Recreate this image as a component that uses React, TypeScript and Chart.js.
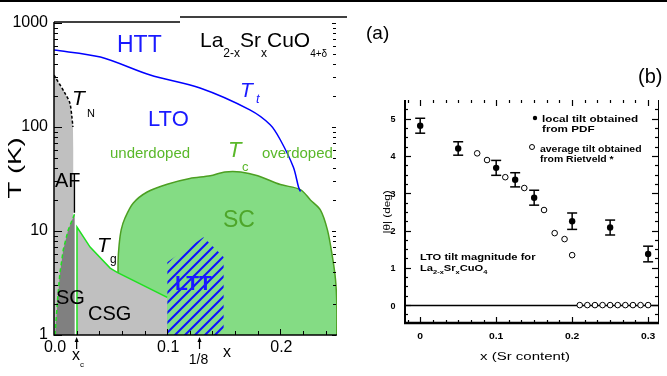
import React, { useEffect, useRef } from "react";
import { Chart, registerables } from "chart.js";

Chart.register(...registerables);

// ---------------- Panel (a): phase diagram ----------------
const aXTicks = [0, 0.1, 0.2];
const aXTickLabels = ["0.0", "0.1", "0.2"];
const aYTicks = [1, 10, 100, 1000];
const aYTickLabels = ["1", "10", "100", "1000"];

// HTT -> LTO structural transition T_t
const ttX = [0, 0.041, 0.085, 0.129, 0.173, 0.191, 0.2, 0.2115, 0.216, 0.2177];
const ttT = [550, 471, 316, 237, 146, 105, 75, 41, 26.5, 24];

// superconducting dome T_c
const scX = [0.0566, 0.0566, 0.0575, 0.0594, 0.0628, 0.0699, 0.0823, 0.1, 0.12, 0.138, 0.151, 0.165, 0.18, 0.2, 0.2177, 0.2265, 0.2354, 0.2416, 0.246, 0.2487, 0.2498, 0.2498];
const scT = [1, 5.0, 7.3, 10.3, 13.4, 18.5, 23.7, 28.2, 32, 34, 37, 37, 34, 28, 25, 19.9, 15.9, 10.2, 5.6, 3.4, 2, 1];

// cluster spin glass region with T_g boundary
const csgX = [0.0203, 0.0203, 0.0319, 0.0496, 0.0558, 0.0788, 0.1, 0.1];
const csgT = [1, 10.9, 7.0, 4.4, 4.0, 3.0, 2.3, 1];

// antiferromagnetic region with T_N boundary
const afX = [0, 0, 0.0096, 0.014, 0.0158, 0.0167, 0.0172, 0.0172];
const afT = [1, 316, 212, 170, 125, 100, 60, 1];

// spin glass region
const sgX = [0.0009, 0.0032, 0.0053, 0.0082, 0.0125, 0.0184, 0.0184];
const sgT = [1, 2.2, 4.0, 6.6, 10.2, 14.8, 1];

// short AF/SG separator
const sepX = [0.018, 0.018];
const sepT = [36, 15];

// LTT hatched region
const lttX = [0.1, 0.1, 0.132, 0.15, 0.15];
const lttT = [1, 5.0, 8.7, 5.6, 1];

// ---------------- Panel (b): LTO tilt ----------------
const bXTicks = [0, 0.1, 0.2, 0.3];
const bXTickLabels = ["0", "0.1", "0.2", "0.3"];
const bYTicks = [0, 1, 2, 3, 4, 5];
const bYTickLabels = ["0", "1", "2", "3", "4", "5"];

const localX = [0, 0.05, 0.1, 0.125, 0.15, 0.2, 0.25, 0.3];
const localTilt = [4.81, 4.2, 3.68, 3.36, 2.88, 2.25, 2.08, 1.37];
const localErr = [0.2, 0.18, 0.2, 0.19, 0.2, 0.22, 0.2, 0.21];

const avgX = [0.075, 0.088, 0.112, 0.137, 0.163, 0.177, 0.19, 0.2, 0.21, 0.22, 0.23, 0.24, 0.25, 0.26, 0.27, 0.28, 0.29, 0.3];
const avgTilt = [4.07, 3.89, 3.43, 3.14, 2.55, 1.93, 1.77, 1.34, 0, 0, 0, 0, 0, 0, 0, 0, 0, 0];

// ---------------- styles ----------------
const FONT = '"Liberation Sans", Arial, Helvetica, sans-serif';
const BLUE = "#1a1aff";
const GREEN_TXT = "#5ab82a";
const SC_TXT = "#4ea62a";
const SC_FILL = "#84dc84";
const SC_EDGE = "#4c9f22";
const BRIGHT_GREEN = "#20e020";
const GREY = "#c0c0c0";
const DARK_GREY = "#808080";

function pts(xs: number[], ys: number[]) {
  return xs.map((x, i) => ({ x, y: ys[i] }));
}

function seg(ctx: CanvasRenderingContext2D, x1: number, y1: number, x2: number, y2: number) {
  ctx.beginPath();
  ctx.moveTo(x1, y1);
  ctx.lineTo(x2, y2);
  ctx.stroke();
}

function txt(
  ctx: CanvasRenderingContext2D,
  s: string,
  x: number,
  y: number,
  font: string,
  color: string,
  align: CanvasTextAlign = "left"
) {
  ctx.font = font;
  ctx.fillStyle = color;
  ctx.textAlign = align;
  ctx.textBaseline = "alphabetic";
  ctx.fillText(s, x, y);
}

// horizontally stretched text; returns drawn width
function txtS(
  ctx: CanvasRenderingContext2D,
  s: string,
  x: number,
  y: number,
  font: string,
  color: string,
  sx: number,
  align: CanvasTextAlign = "left"
) {
  ctx.save();
  ctx.translate(x, y);
  ctx.scale(sx, 1);
  txt(ctx, s, 0, 0, font, color, align);
  const w = ctx.measureText(s).width * sx;
  ctx.restore();
  return w;
}

function arrowUp(ctx: CanvasRenderingContext2D, x: number, yTop: number, yBot: number) {
  ctx.lineWidth = 1.2;
  seg(ctx, x, yTop + 2, x, yBot);
  ctx.beginPath();
  ctx.moveTo(x, yTop);
  ctx.lineTo(x - 2, yTop + 5);
  ctx.lineTo(x + 2, yTop + 5);
  ctx.closePath();
  ctx.fill();
}

const panelAPlugin = {
  id: "panelA",
  afterDatasetsDraw(chart: any) {
    const { ctx, chartArea: a, scales } = chart;
    const X = (v: number) => scales.x.getPixelForValue(v);
    const Y = (v: number) => scales.y.getPixelForValue(v);
    ctx.save();
    ctx.strokeStyle = "#000";
    ctx.fillStyle = "#000";
    ctx.lineWidth = 1.5;
    // frame
    seg(ctx, a.left, a.top - 1, a.left, a.bottom + 0.75);
    seg(ctx, a.left, a.bottom, a.right, a.bottom);
    seg(ctx, a.left, a.top - 1, 180, a.top - 1);
    seg(ctx, 180, 17, 347, 17);
    // log ticks left & right
    ctx.lineWidth = 1;
    for (let dec = 1; dec <= 1000; dec *= 10) {
      for (let m = 1; m < 10; m++) {
        const v = dec * m;
        if (v > 1000) break;
        const py = Math.round(Y(v)) + 0.5;
        const major = m === 1;
        seg(ctx, a.left, py, a.left + (major ? 8 : 4), py);
        seg(ctx, a.right - 1, py, a.right - 1 - (major ? 4 : 3), py);
      }
    }
    // x ticks
    for (let k = 1; k * 0.02 < 0.25; k++) {
      const px = Math.round(X(k * 0.02)) + 0.5;
      seg(ctx, px, a.bottom, px, a.bottom - (k % 5 === 0 ? 6 : 4));
    }
    // tick labels
    aYTicks.forEach((v, i) => txt(ctx, aYTickLabels[i], a.left - 6, Y(v) + 3.5, `16px ${FONT}`, "#000", "right"));
    aXTicks.forEach((v, i) => txt(ctx, aXTickLabels[i], X(v) + 1, a.bottom + 17, `16px ${FONT}`, "#000", "center"));
    txt(ctx, "x", 223, a.bottom + 22, `16px ${FONT}`, "#000");
    // arrows for x_c and 1/8
    arrowUp(ctx, X(0.02), a.bottom + 2, a.bottom + 14);
    arrowUp(ctx, X(0.125) + 4, a.bottom + 2, a.bottom + 14);
    txt(ctx, "x", 72, a.bottom + 25, `16px ${FONT}`, "#000");
    txt(ctx, "c", 80, a.bottom + 32, `8px ${FONT}`, "#000");
    txt(ctx, "1/8", X(0.125) + 3, a.bottom + 29, `14px ${FONT}`, "#000", "center");
    // y axis title (stretched along its length)
    ctx.save();
    ctx.translate(21, 168);
    ctx.rotate(-Math.PI / 2);
    ctx.scale(1.45, 1);
    txt(ctx, "T (K)", 0, 0, `19px ${FONT}`, "#000", "center");
    ctx.restore();

    // region labels
    txt(ctx, "HTT", 117, 52, `23px ${FONT}`, BLUE);
    txt(ctx, "LTO", 148, 126, `22px ${FONT}`, BLUE);
    txt(ctx, "T", 240, 97, `italic 21px ${FONT}`, BLUE);
    txt(ctx, "t", 256, 103, `italic 13px ${FONT}`, BLUE);
    txt(ctx, "T", 72, 105, `italic 21px ${FONT}`, "#000");
    txt(ctx, "N", 87, 117, `11px ${FONT}`, "#000");
    txt(ctx, "underdoped", 110, 158, `15px ${FONT}`, GREEN_TXT);
    txt(ctx, "T", 228, 157, `italic 22px ${FONT}`, GREEN_TXT);
    txt(ctx, "c", 242, 171, `13px ${FONT}`, GREEN_TXT);
    txt(ctx, "overdoped", 262, 158, `15px ${FONT}`, GREEN_TXT);
    txt(ctx, "AF", 55, 187, `20px ${FONT}`, "#000");
    txt(ctx, "SC", 223, 227, `23px ${FONT}`, SC_TXT);
    txt(ctx, "T", 97, 252, `italic 21px ${FONT}`, "#000");
    txt(ctx, "g", 110, 263, `12px ${FONT}`, "#000");
    txt(ctx, "SG", 56, 304, `20px ${FONT}`, "#000");
    txt(ctx, "CSG", 88, 320, `20px ${FONT}`, "#000");
    txt(ctx, "LTT", 175, 290, `bold 21px ${FONT}`, BLUE);

    // formula La2-xSrxCuO4+δ
    let cx = 200;
    const big = `21px ${FONT}`;
    const sub = `12px ${FONT}`;
    const parts: [string, boolean][] = [["La", false], ["2-x", true], ["Sr", false], ["x", true], ["CuO", false], ["4+δ", true]];
    for (const [s, isSub] of parts) {
      const f = isSub ? (s === "4+δ" ? `10px ${FONT}` : sub) : big;
      txt(ctx, s, cx, isSub ? 57 : 47, f, "#000");
      ctx.font = f;
      cx += ctx.measureText(s).width;
    }
    ctx.restore();
  },
};

const panelBPlugin = {
  id: "panelB",
  beforeDatasetsDraw(chart: any) {
    const { ctx, chartArea: a, scales } = chart;
    const X = (v: number) => scales.x.getPixelForValue(v);
    const Y = (v: number) => scales.y.getPixelForValue(v);
    ctx.save();
    ctx.strokeStyle = "#000";
    ctx.lineWidth = 1.5;
    const y0 = Math.round(Y(0)) + 0.5;
    seg(ctx, a.left, y0, a.right, y0);
    // error bars
    ctx.lineWidth = 1.5;
    localX.forEach((x, i) => {
      const px = X(x);
      const yt = Y(localTilt[i] + localErr[i]);
      const yb = Y(localTilt[i] - localErr[i]);
      seg(ctx, px, yt, px, yb);
      seg(ctx, px - 5, yt, px + 5, yt);
      seg(ctx, px - 5, yb, px + 5, yb);
    });
    ctx.restore();
  },
  afterDatasetsDraw(chart: any) {
    const { ctx, chartArea: a, scales } = chart;
    const X = (v: number) => scales.x.getPixelForValue(v);
    const Y = (v: number) => scales.y.getPixelForValue(v);
    ctx.save();
    ctx.strokeStyle = "#000";
    ctx.fillStyle = "#000";
    // axes
    ctx.lineWidth = 2;
    seg(ctx, a.left, a.top, a.left, a.bottom + 1);
    ctx.lineWidth = 2.5;
    seg(ctx, a.left - 1, a.bottom, a.right + 1, a.bottom);
    ctx.lineWidth = 1;
    seg(ctx, a.right + 0.5, a.top, a.right + 0.5, a.bottom);
    // y ticks
    for (let k = -1; k <= 21; k++) {
      const v = k * 0.25;
      const py = Math.round(Y(v)) + 0.5;
      if (py < a.top + 1 || py > a.bottom - 2) continue;
      const major = k % 4 === 0;
      ctx.lineWidth = 1.2;
      seg(ctx, a.left, py, a.left + (major ? 6 : 3), py);
      seg(ctx, a.right, py, a.right - (major ? 6 : 3), py);
    }
    // x ticks (six intervals per 0.1)
    for (let k = -1; k <= 19; k++) {
      const v = k / 60;
      const px = Math.round(X(v)) + 0.5;
      if (px < a.left + 3 || px > a.right - 3) continue;
      const major = k % 6 === 0;
      ctx.lineWidth = 1.2;
      seg(ctx, px, a.bottom, px, a.bottom - (major ? 6 : 3));
      seg(ctx, px, a.top, px, a.top + (major ? 6 : 3));
    }
    const small = `bold 9px ${FONT}`;
    bYTicks.forEach((v, i) => txt(ctx, bYTickLabels[i], 33, Y(v) + 3.5, small, "#000", "center"));
    bXTicks.forEach((v, i) => txtS(ctx, bXTickLabels[i], X(v), a.bottom + 16, small, "#000", 1.15, "center"));
    txtS(ctx, "x (Sr content)", 165, 360, `10px ${FONT}`, "#000", 1.5, "center");
    ctx.save();
    ctx.translate(30, 212);
    ctx.rotate(-Math.PI / 2);
    ctx.scale(1.3, 1);
    txt(ctx, "|θ| (deg)", 0, 0, `9px ${FONT}`, "#000", "center");
    ctx.restore();

    // legend
    ctx.beginPath();
    ctx.arc(175, 118, 2.2, 0, Math.PI * 2);
    ctx.fill();
    txtS(ctx, "local tilt obtained", 182, 122, small, "#000", 1.3);
    txtS(ctx, "from PDF", 182, 132, small, "#000", 1.3);
    ctx.lineWidth = 1;
    ctx.beginPath();
    ctx.arc(172, 147, 2.5, 0, Math.PI * 2);
    ctx.stroke();
    txtS(ctx, "average tilt obtained", 180, 152, small, "#000", 1.16);
    txtS(ctx, "from Rietveld *", 180, 162, small, "#000", 1.16);

    // annotation
    txtS(ctx, "LTO tilt magnitude for", 60, 260, small, "#000", 1.24);
    let cx = 60;
    const parts: [string, boolean][] = [["La", false], ["2-x", true], ["Sr", false], ["x", true], ["CuO", false], ["4", true]];
    for (const [s, isSub] of parts) {
      const f = isSub ? `bold 6px ${FONT}` : small;
      cx += txtS(ctx, s, cx, isSub ? 274 : 271, f, "#000", 1.24);
    }

    // panel letters
    txt(ctx, "(a)", 6, 39, `19px ${FONT}`, "#000");
    txt(ctx, "(b)", 278, 83, `20px ${FONT}`, "#000");
    ctx.restore();
  },
};

function makeHatch(ctx: CanvasRenderingContext2D) {
  const pc = document.createElement("canvas");
  pc.width = 10;
  pc.height = 10;
  const g = pc.getContext("2d")!;
  g.strokeStyle = "#1010ff";
  g.lineWidth = 2;
  g.beginPath();
  g.moveTo(0, 10);
  g.lineTo(10, 0);
  g.moveTo(-5, 5);
  g.lineTo(5, -5);
  g.moveTo(5, 15);
  g.lineTo(15, 5);
  g.stroke();
  return ctx.createPattern(pc, "repeat")!;
}

export default function App() {
  const refA = useRef<HTMLCanvasElement>(null);
  const refB = useRef<HTMLCanvasElement>(null);

  useEffect(() => {
    const ca = refA.current!;
    const cb = refB.current!;
    const hatch = makeHatch(ca.getContext("2d")!);

    const lineDs = (data: any, extra: any) => ({
      data,
      pointRadius: 0,
      tension: 0,
      fill: false,
      borderWidth: 0,
      ...extra,
    });

    const chartA = new Chart(ca, {
      type: "line",
      data: {
        datasets: [
          lineDs(pts(scX, scT), { order: 10, fill: "start", backgroundColor: SC_FILL, borderColor: SC_EDGE, borderWidth: 1.5, tension: 0.3 }),
          lineDs(pts(lttX, lttT), { order: 9, fill: "start", backgroundColor: hatch, borderColor: "rgba(0,0,0,0)" }),
          lineDs(pts(csgX, csgT), { order: 8, fill: "start", backgroundColor: GREY, borderColor: "rgba(0,0,0,0)" }),
          lineDs(pts(csgX.slice(0, -1), csgT.slice(0, -1)), { order: 7, borderColor: BRIGHT_GREEN, borderWidth: 1.5 }),
          lineDs(pts(afX, afT), { order: 6, fill: "start", backgroundColor: GREY, borderColor: "rgba(0,0,0,0)" }),
          lineDs(pts(sgX, sgT), { order: 5, fill: "start", backgroundColor: DARK_GREY, borderColor: "rgba(0,0,0,0)" }),
          lineDs(pts(sgX.slice(0, -1), sgT.slice(0, -1)), { order: 4, borderColor: BRIGHT_GREEN, borderWidth: 1.5, borderDash: [4, 3] }),
          lineDs(pts(afX.slice(1, 6), afT.slice(1, 6)), { order: 3, borderColor: "#000", borderWidth: 1.5, borderDash: [3, 2], tension: 0.3 }),
          lineDs(pts(sepX, sepT), { order: 2, borderColor: "#000", borderWidth: 1.5 }),
          lineDs(pts(ttX, ttT), { order: 1, borderColor: "#0000ff", borderWidth: 1.5, tension: 0.3 }),
        ],
      },
      options: {
        animation: false,
        responsive: false,
        devicePixelRatio: 1,
        events: [],
        layout: { padding: { left: 54, right: 360 - 337, top: 23, bottom: 376 - 335 } },
        scales: {
          x: { type: "linear", min: 0, max: 0.25, display: false },
          y: { type: "logarithmic", min: 1, max: 1000, display: false },
        },
        plugins: { legend: { display: false }, tooltip: { enabled: false } },
      },
      plugins: [panelAPlugin],
    } as any);

    const chartB = new Chart(cb, {
      type: "scatter",
      data: {
        datasets: [
          {
            data: pts(localX, localTilt),
            pointRadius: 3.2,
            pointBackgroundColor: "#000",
            pointBorderColor: "#000",
            pointBorderWidth: 0,
          },
          {
            data: pts(avgX, avgTilt),
            pointRadius: 2.8,
            pointBackgroundColor: "#fff",
            pointBorderColor: "#000",
            pointBorderWidth: 1,
          },
        ],
      },
      options: {
        animation: false,
        responsive: false,
        devicePixelRatio: 1,
        events: [],
        layout: { padding: { left: 45, right: 307 - 298, top: 100, bottom: 376 - 323 } },
        scales: {
          x: { type: "linear", min: -0.02, max: 0.313, display: false },
          y: { type: "linear", min: -0.48, max: 5.5, display: false },
        },
        plugins: { legend: { display: false }, tooltip: { enabled: false } },
      },
      plugins: [panelBPlugin],
    } as any);

    return () => {
      chartA.destroy();
      chartB.destroy();
    };
  }, []);

  return (
    <div style={{ position: "absolute", left: 0, top: 0, width: 667, height: 376, background: "#fff", overflow: "hidden" }}>
      <canvas ref={refA} width={360} height={376} style={{ position: "absolute", left: 0, top: 0, width: 360, height: 376 }} />
      <canvas ref={refB} width={307} height={376} style={{ position: "absolute", left: 360, top: 0, width: 307, height: 376 }} />
      <div style={{ position: "absolute", left: 0, top: 0, width: 667, height: 2, background: "#000" }} />
    </div>
  );
}
